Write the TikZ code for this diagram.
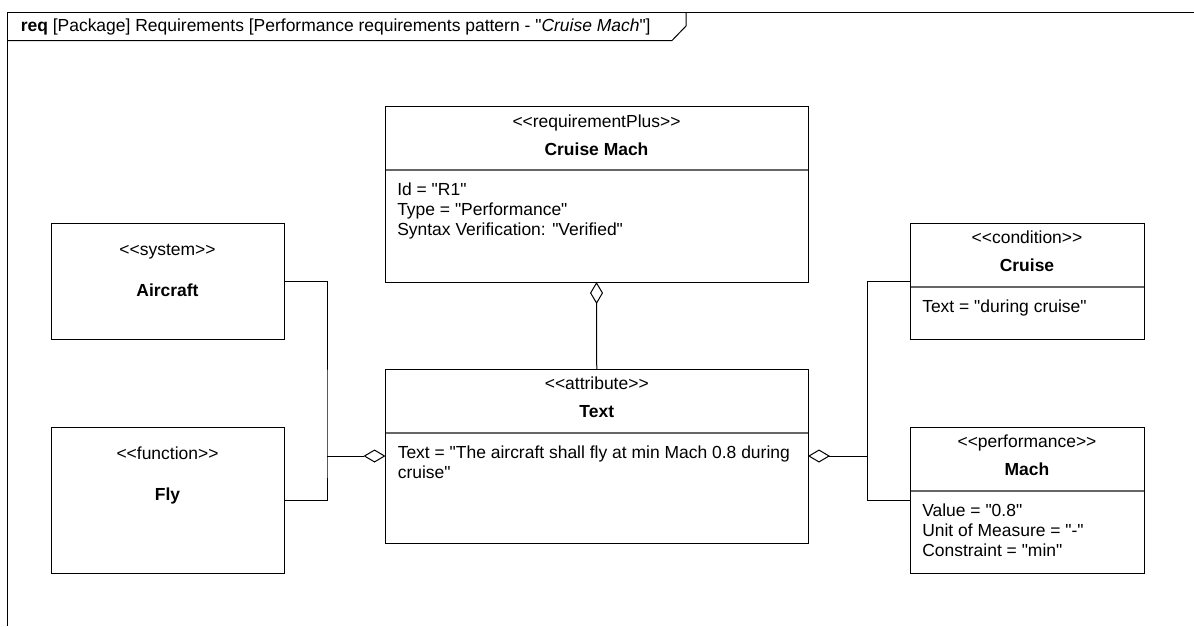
\documentclass[tikz,border=0pt]{standalone}
\usepackage{fontspec}
\setmainfont{Liberation Sans}[Ligatures=TeXOff]
\usetikzlibrary{arrows.meta,calc}

\newcommand\fs{\fontsize{13.1}{15}\selectfont}
\newcommand\stype[1]{<\kern0pt<#1>\kern0pt>}

\begin{document}
\begin{tikzpicture}[x=0.75pt, y=-0.75pt, line join=miter,
    box/.style 2 args={draw, line width=0.75pt, anchor=north west, inner sep=0pt, outer sep=0pt,
      minimum width=#1*0.75pt, minimum height=#2*0.75pt},
    stereo/.style={anchor=base, inner sep=0pt, font=\fs},
    bname/.style={anchor=base, inner sep=0pt, font=\fs\bfseries},
    attr/.style={anchor=north west, inner sep=0pt, align=left, font=\fs},
    title/.style={anchor=base west, inner sep=0pt, font=\fs},
    sep/.style={line width=1.5pt, draw=black!60},
    link/.style={line width=0.75pt},
    agg/.style={-{Diamond[open, length=16.5pt, width=9.75pt, line width=0.75pt]}}]
      \useasboundingbox (0,0) rectangle (1194,626);

      % Frame met tab
      \draw[link] (7,626) -- (7,12) -- (1194,12);
      \draw[link] (7,40.5) -- (672,40.5) -- (686,26) -- (686,12);
      \node[title] (frametitle) at (20.5,31.5)
        {\textbf{req} [Package] Requirements [Performance requirements pattern - "\textit{Cruise Mach}"]};

      % Blokken: naam/x/y/breedte/hoogte
      \foreach \n/\x/\y/\w/\h in {cm/385/106/423/176, aircraft/51/223/233/116, fly/51/427/233/146,
          txt/385.5/369/422.5/174, cruise/910/223/234/116, mach/910/427/234/146}{
        \node[box={\w}{\h}] (\n) at (\x,\y) {};
      }

      % Scheidingslijnen onder de kop
      \def\sepdy{63.5}
      \foreach \n in {cm,txt,cruise,mach}{
        \draw[sep] ($(\n.north west)+(0.5,\sepdy)$) -- ($(\n.north east)+(-0.5,\sepdy)$);
      }

      % Koppen met attributen
      \node[stereo] (cm-st) at ($(cm.north)+(0,21.5)$) {\stype{requirementPlus}};
      \node[bname] (cm-nm) at ($(cm.north)+(0,49)$) {Cruise Mach};
      \node[attr] (cm-at) at ($(cm.north west)+(12,77)$)
        {Id = "R1"\\Type = "Performance"\\Syntax Verification: "Verified"};

      \node[stereo] (txt-st) at ($(txt.north)+(0,20.5)$) {\stype{attribute}};
      \node[bname] (txt-nm) at ($(txt.north)+(0,48.5)$) {Text};
      \node[attr] (txt-at) at ($(txt.north west)+(12,77)$)
        {Text = "The aircraft shall fly at min Mach 0.8 during\\cruise"};

      \node[stereo] (cruise-st) at ($(cruise.north)+(0,20.5)$) {\stype{condition}};
      \node[bname] (cruise-nm) at ($(cruise.north)+(0,48.5)$) {Cruise};
      \node[attr] (cruise-at) at ($(cruise.north west)+(12,77)$) {Text = "during cruise"};

      \node[stereo] (mach-st) at ($(mach.north)+(0,20.5)$) {\stype{performance}};
      \node[bname] (mach-nm) at ($(mach.north)+(0,48.5)$) {Mach};
      \node[attr] (mach-at) at ($(mach.north west)+(12,77)$)
        {Value = "0.8"\\Unit of Measure = "-"\\Constraint = "min"};

      % Koppen zonder attributen
      \node[stereo] (aircraft-st) at ($(aircraft.north)+(0,32)$) {\stype{system}};
      \node[bname] (aircraft-nm) at ($(aircraft.north)+(0,73)$) {Aircraft};
      \node[stereo] (fly-st) at ($(fly.north)+(0,32)$) {\stype{function}};
      \node[bname] (fly-nm) at ($(fly.north)+(0,73)$) {Fly};

      % Verbindingen (aggregatie)
      \coordinate (ljoin) at (327,456);
      \coordinate (rjoin) at (867,456);
      \draw[link] (aircraft.east) -| (ljoin) |- (fly.east);
      \draw[link, agg] (ljoin) -- (txt.west);
      \draw[link] (cruise.west) -| (rjoin) |- (mach.west);
      \draw[link, agg] (rjoin) -- (txt.east);
      \draw[link, agg] (txt.north) -- (cm.south);
    \end{tikzpicture}
\end{document}
